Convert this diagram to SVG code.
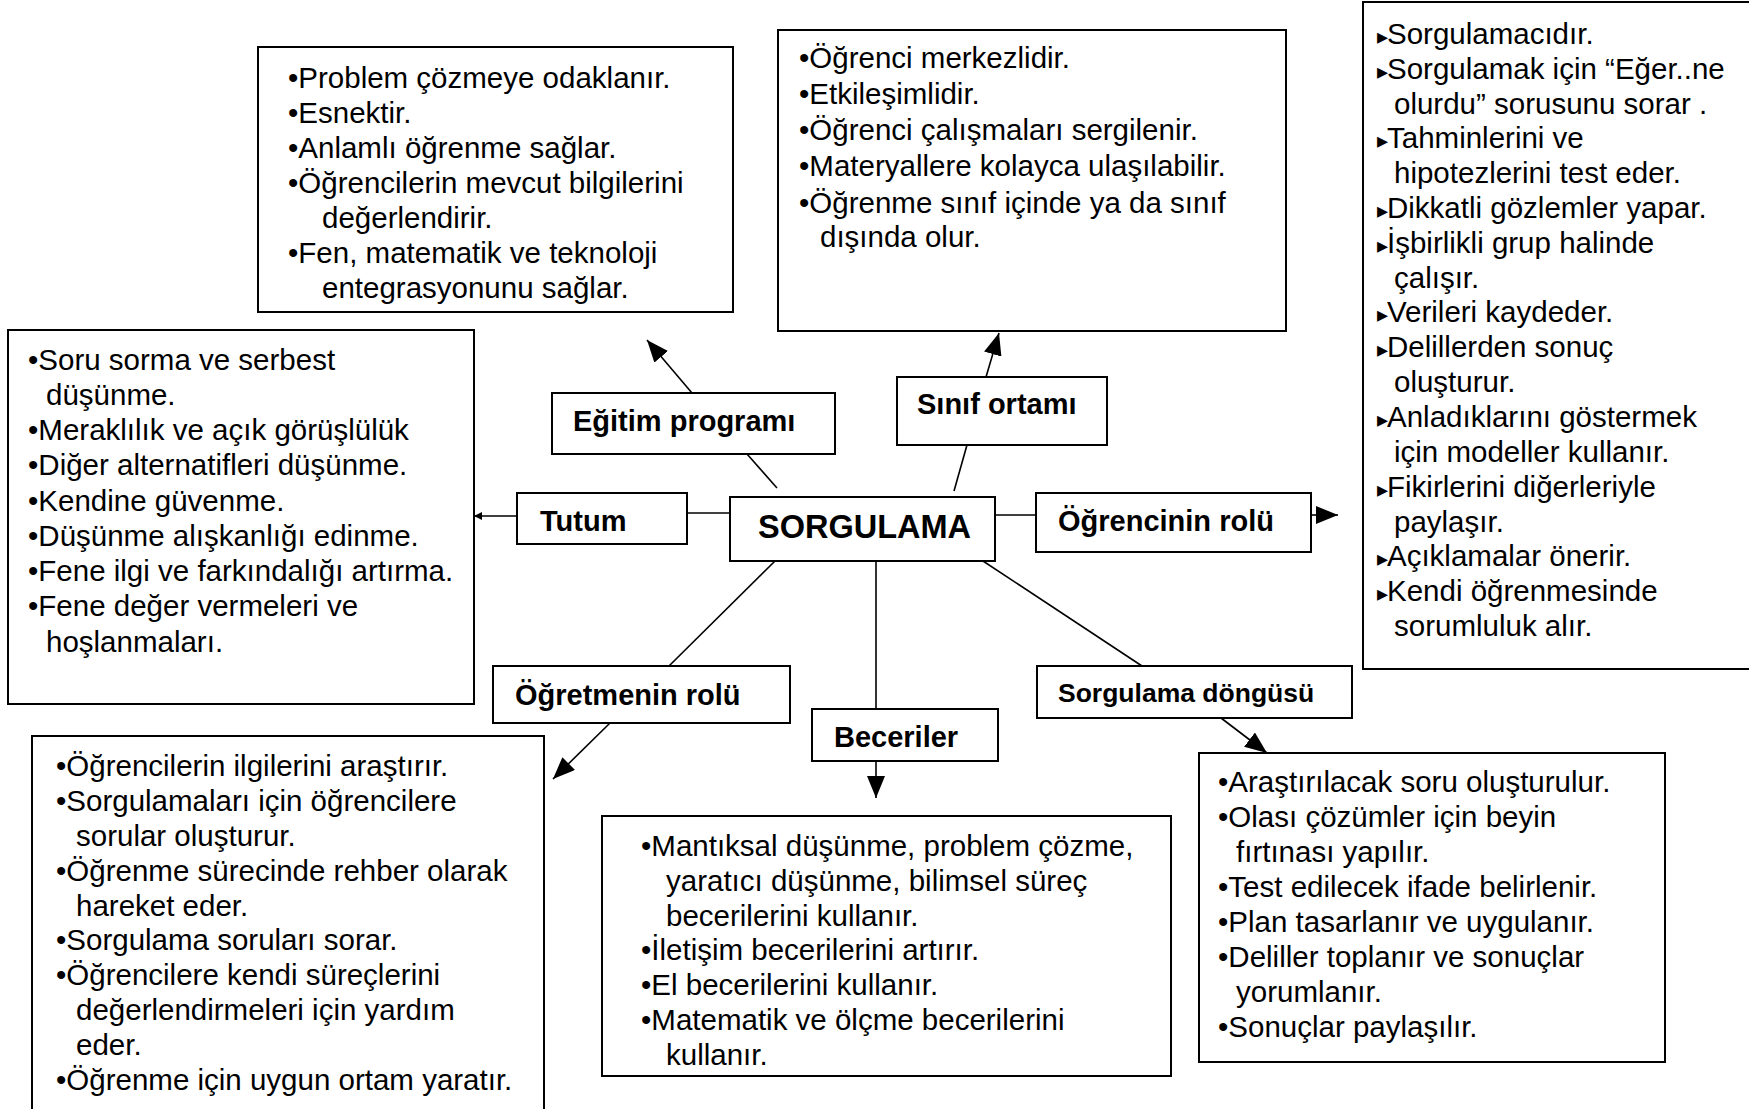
<svg xmlns="http://www.w3.org/2000/svg" width="1749" height="1109" viewBox="0 0 1749 1109">
<style>
.box{fill:#fff;stroke:#000;stroke-width:2}
.t{font-family:"Liberation Sans",Arial,sans-serif;font-size:29.5px;fill:#000}
.lb{font-family:"Liberation Sans",Arial,sans-serif;font-size:29px;font-weight:bold;fill:#000}
.bt{font-family:"DejaVu Sans","Liberation Sans",sans-serif;font-size:22px}
.ln{stroke:#000;stroke-width:1.6;fill:none}
</style>
<defs>
<marker id="ah" viewBox="0 0 22 18" refX="22" refY="9" markerWidth="22" markerHeight="18" markerUnits="userSpaceOnUse" orient="auto"><path d="M0,0 L22,9 L0,18 z" fill="#000"/></marker>
<marker id="ahs" viewBox="0 0 8 8" refX="8" refY="4" markerWidth="8" markerHeight="8" markerUnits="userSpaceOnUse" orient="auto"><path d="M0,0 L8,4 L0,8 z" fill="#000"/></marker>
</defs>
<rect width="1749" height="1109" fill="#fff"/>

<g id="connectors">
<line class="ln" x1="777" y1="488" x2="747" y2="454"/>
<line class="ln" x1="692" y1="393" x2="647" y2="340" marker-end="url(#ah)"/>
<line class="ln" x1="954" y1="491" x2="967" y2="445"/>
<line class="ln" x1="986" y1="377" x2="999" y2="333" marker-end="url(#ah)"/>
<line class="ln" x1="730" y1="513" x2="687" y2="513"/>
<line class="ln" x1="517" y1="516" x2="474" y2="516" marker-end="url(#ahs)"/>
<line class="ln" x1="995" y1="515" x2="1036" y2="515"/>
<line class="ln" x1="1311" y1="515" x2="1338" y2="515" marker-end="url(#ah)"/>
<line class="ln" x1="775" y1="561" x2="669" y2="666"/>
<line class="ln" x1="610" y1="723" x2="553" y2="779" marker-end="url(#ah)"/>
<line class="ln" x1="876" y1="561" x2="876" y2="709"/>
<line class="ln" x1="876" y1="761" x2="876" y2="798" marker-end="url(#ah)"/>
<line class="ln" x1="983" y1="561" x2="1142" y2="666"/>
<line class="ln" x1="1221" y1="718" x2="1267" y2="753" marker-end="url(#ah)"/>
</g>

<g id="sorgulama">
<rect class="box" x="730" y="497" width="265" height="64"/>
<text class="lb" x="758" y="538" style="font-size:32.5px">SORGULAMA</text>
</g>

<g id="egitim-programi">
<rect class="box" x="552" y="393" width="283" height="61"/>
<text class="lb" x="573" y="431">Eğitim programı</text>
</g>

<g id="sinif-ortami">
<rect class="box" x="897" y="377" width="210" height="68"/>
<text class="lb" x="917" y="414">Sınıf ortamı</text>
</g>

<g id="tutum">
<rect class="box" x="517" y="493" width="170" height="51"/>
<text class="lb" x="540" y="531">Tutum</text>
</g>

<g id="ogrencinin-rolu">
<rect class="box" x="1036" y="493" width="275" height="59"/>
<text class="lb" x="1058" y="531">Öğrencinin rolü</text>
</g>

<g id="ogretmenin-rolu">
<rect class="box" x="493" y="666" width="297" height="57"/>
<text class="lb" x="515" y="705">Öğretmenin rolü</text>
</g>

<g id="beceriler">
<rect class="box" x="812" y="709" width="186" height="52"/>
<text class="lb" x="834" y="747">Beceriler</text>
</g>

<g id="sorgulama-dongusu">
<rect class="box" x="1037" y="666" width="315" height="52"/>
<text class="lb" x="1058" y="702" style="font-size:26.5px">Sorgulama döngüsü</text>
</g>

<g id="egitim-icerik">
<rect class="box" x="258" y="47" width="475" height="265"/>
<text class="t" x="288" y="88">•Problem çözmeye odaklanır.</text>
<text class="t" x="288" y="123">•Esnektir.</text>
<text class="t" x="288" y="158">•Anlamlı öğrenme sağlar.</text>
<text class="t" x="288" y="193">•Öğrencilerin mevcut bilgilerini</text>
<text class="t" x="322" y="228">değerlendirir.</text>
<text class="t" x="288" y="263">•Fen, matematik ve teknoloji</text>
<text class="t" x="322" y="298">entegrasyonunu sağlar.</text>
</g>

<g id="sinif-icerik">
<rect class="box" x="778" y="30" width="508" height="301"/>
<text class="t" x="799" y="68">•Öğrenci merkezlidir.</text>
<text class="t" x="799" y="104">•Etkileşimlidir.</text>
<text class="t" x="799" y="140">•Öğrenci çalışmaları sergilenir.</text>
<text class="t" x="799" y="176">•Materyallere kolayca ulaşılabilir.</text>
<text class="t" x="799" y="213">•Öğrenme sınıf içinde ya da sınıf</text>
<text class="t" x="820" y="247">dışında olur.</text>
</g>

<g id="ogrenci-icerik">
<rect class="box" x="1363" y="2" width="400" height="667"/>
<text class="t" y="44"><tspan class="bt" x="1377">▸</tspan><tspan x="1387">Sorgulamacıdır.</tspan></text>
<text class="t" y="79"><tspan class="bt" x="1377">▸</tspan><tspan x="1387">Sorgulamak için “Eğer..ne</tspan></text>
<text class="t" x="1394" y="114">olurdu” sorusunu sorar .</text>
<text class="t" y="148"><tspan class="bt" x="1377">▸</tspan><tspan x="1387">Tahminlerini ve</tspan></text>
<text class="t" x="1394" y="183">hipotezlerini test eder.</text>
<text class="t" y="218"><tspan class="bt" x="1377">▸</tspan><tspan x="1387">Dikkatli gözlemler yapar.</tspan></text>
<text class="t" y="253"><tspan class="bt" x="1377">▸</tspan><tspan x="1387">İşbirlikli grup halinde</tspan></text>
<text class="t" x="1394" y="288">çalışır.</text>
<text class="t" y="322"><tspan class="bt" x="1377">▸</tspan><tspan x="1387">Verileri kaydeder.</tspan></text>
<text class="t" y="357"><tspan class="bt" x="1377">▸</tspan><tspan x="1387">Delillerden sonuç</tspan></text>
<text class="t" x="1394" y="392">oluşturur.</text>
<text class="t" y="427"><tspan class="bt" x="1377">▸</tspan><tspan x="1387">Anladıklarını göstermek</tspan></text>
<text class="t" x="1394" y="462">için modeller kullanır.</text>
<text class="t" y="497"><tspan class="bt" x="1377">▸</tspan><tspan x="1387">Fikirlerini diğerleriyle</tspan></text>
<text class="t" x="1394" y="532">paylaşır.</text>
<text class="t" y="566"><tspan class="bt" x="1377">▸</tspan><tspan x="1387">Açıklamalar önerir.</tspan></text>
<text class="t" y="601"><tspan class="bt" x="1377">▸</tspan><tspan x="1387">Kendi öğrenmesinde</tspan></text>
<text class="t" x="1394" y="636">sorumluluk alır.</text>
</g>

<g id="tutum-icerik">
<rect class="box" x="8" y="330" width="466" height="374"/>
<text class="t" x="28" y="370">•Soru sorma ve serbest</text>
<text class="t" x="46" y="405">düşünme.</text>
<text class="t" x="28" y="440">•Meraklılık ve açık görüşlülük</text>
<text class="t" x="28" y="475">•Diğer alternatifleri düşünme.</text>
<text class="t" x="28" y="511">•Kendine güvenme.</text>
<text class="t" x="28" y="546">•Düşünme alışkanlığı edinme.</text>
<text class="t" x="28" y="581">•Fene ilgi ve farkındalığı artırma.</text>
<text class="t" x="28" y="616">•Fene değer vermeleri ve</text>
<text class="t" x="46" y="652">hoşlanmaları.</text>
</g>

<g id="ogretmen-icerik">
<rect class="box" x="32" y="736" width="512" height="400"/>
<text class="t" x="56" y="776">•Öğrencilerin ilgilerini araştırır.</text>
<text class="t" x="56" y="811">•Sorgulamaları için öğrencilere</text>
<text class="t" x="76" y="846">sorular oluşturur.</text>
<text class="t" x="56" y="881">•Öğrenme sürecinde rehber olarak</text>
<text class="t" x="76" y="916">hareket eder.</text>
<text class="t" x="56" y="950">•Sorgulama soruları sorar.</text>
<text class="t" x="56" y="985">•Öğrencilere kendi süreçlerini</text>
<text class="t" x="76" y="1020">değerlendirmeleri için yardım</text>
<text class="t" x="76" y="1055">eder.</text>
<text class="t" x="56" y="1090">•Öğrenme için uygun ortam yaratır.</text>
</g>

<g id="beceriler-icerik">
<rect class="box" x="602" y="816" width="569" height="260"/>
<text class="t" x="641" y="856">•Mantıksal düşünme, problem çözme,</text>
<text class="t" x="666" y="891">yaratıcı düşünme, bilimsel süreç</text>
<text class="t" x="666" y="926">becerilerini kullanır.</text>
<text class="t" x="641" y="960">•İletişim becerilerini artırır.</text>
<text class="t" x="641" y="995">•El becerilerini kullanır.</text>
<text class="t" x="641" y="1030">•Matematik ve ölçme becerilerini</text>
<text class="t" x="666" y="1065">kullanır.</text>
</g>

<g id="dongu-icerik">
<rect class="box" x="1199" y="753" width="466" height="309"/>
<text class="t" x="1218" y="792">•Araştırılacak soru oluşturulur.</text>
<text class="t" x="1218" y="827">•Olası çözümler için beyin</text>
<text class="t" x="1236" y="862">fırtınası yapılır.</text>
<text class="t" x="1218" y="897">•Test edilecek ifade belirlenir.</text>
<text class="t" x="1218" y="932">•Plan tasarlanır ve uygulanır.</text>
<text class="t" x="1218" y="967">•Deliller toplanır ve sonuçlar</text>
<text class="t" x="1236" y="1002">yorumlanır.</text>
<text class="t" x="1218" y="1037">•Sonuçlar paylaşılır.</text>
</g>
</svg>
